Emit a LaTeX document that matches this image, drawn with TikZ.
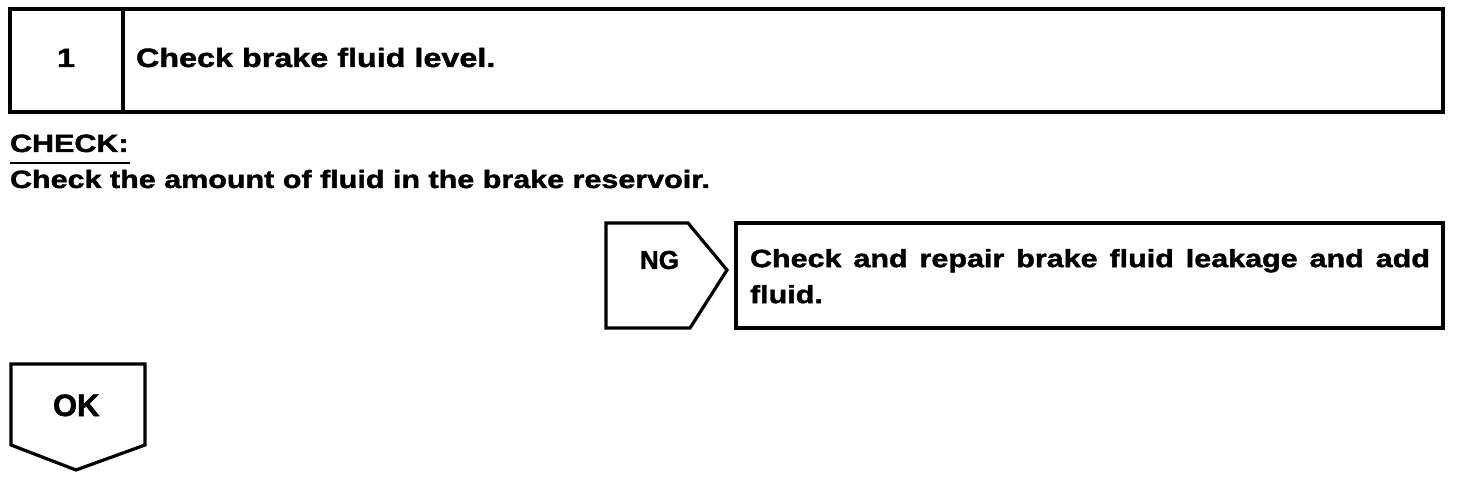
\documentclass[tikz,border=0pt]{standalone}
\usepackage{fontspec}
\setmainfont{Liberation Sans}[FakeStretch=1.22, BoldFeatures={FakeBold=1.6}]
\newfontfamily\plainfont{Liberation Sans}[BoldFeatures={FakeBold=1.6}]
\tikzset{
  boxline/.style={line width=3.2pt, line join=miter},
  txt/.style={inner sep=0pt, outer sep=0pt, anchor=base west, font=\bfseries\fontsize{25}{36}\selectfont},
  titletxt/.style={inner sep=0pt, outer sep=0pt, anchor=base west, font=\bfseries\fontsize{26.5}{32}\selectfont},
  tagtxt/.style={inner sep=0pt, outer sep=0pt, anchor=base west, font=\plainfont\bfseries\fontsize{26}{30}\selectfont},
}
\begin{document}
\begin{tikzpicture}[x=1pt,y=-1pt]
\useasboundingbox (0,0) rectangle (1472,478);
% header box
\draw[boxline] (10,9) rectangle (1443,112);
\draw[boxline] (123,9) -- (123,112);
\node[titletxt] (num) at (57,67) {1};
\node[titletxt] (title) at (136,67) {Check brake fluid level.};
% CHECK
\node[txt] (check) at (10,152) {CHECK:};
\draw[line width=2.2pt] (10,163) -- (130,163);
\node[txt] (checktext) at (10,188) {Check the amount of fluid in the brake reservoir.};
% NG tag
\draw[boxline] (606,223) -- (688,223) -- (727,270) -- (690,328) -- (606,328) -- cycle;
\node[tagtxt] (ng) at (640,269) {NG};
% NG action box
\draw[boxline] (736,223) rectangle (1443,328);
\node[txt, anchor=north west, text width=680pt, align=justify] (ngtext) at (750,249)
  {Check and repair brake fluid leakage and add fluid.};
% OK tag
\draw[boxline] (11,364) -- (145,364) -- (145,445) -- (76,470) -- (11,445) -- cycle;
\node[tagtxt, font=\plainfont\bfseries\fontsize{31}{34}\selectfont] (ok) at (53,416) {OK};
\end{tikzpicture}
\end{document}
